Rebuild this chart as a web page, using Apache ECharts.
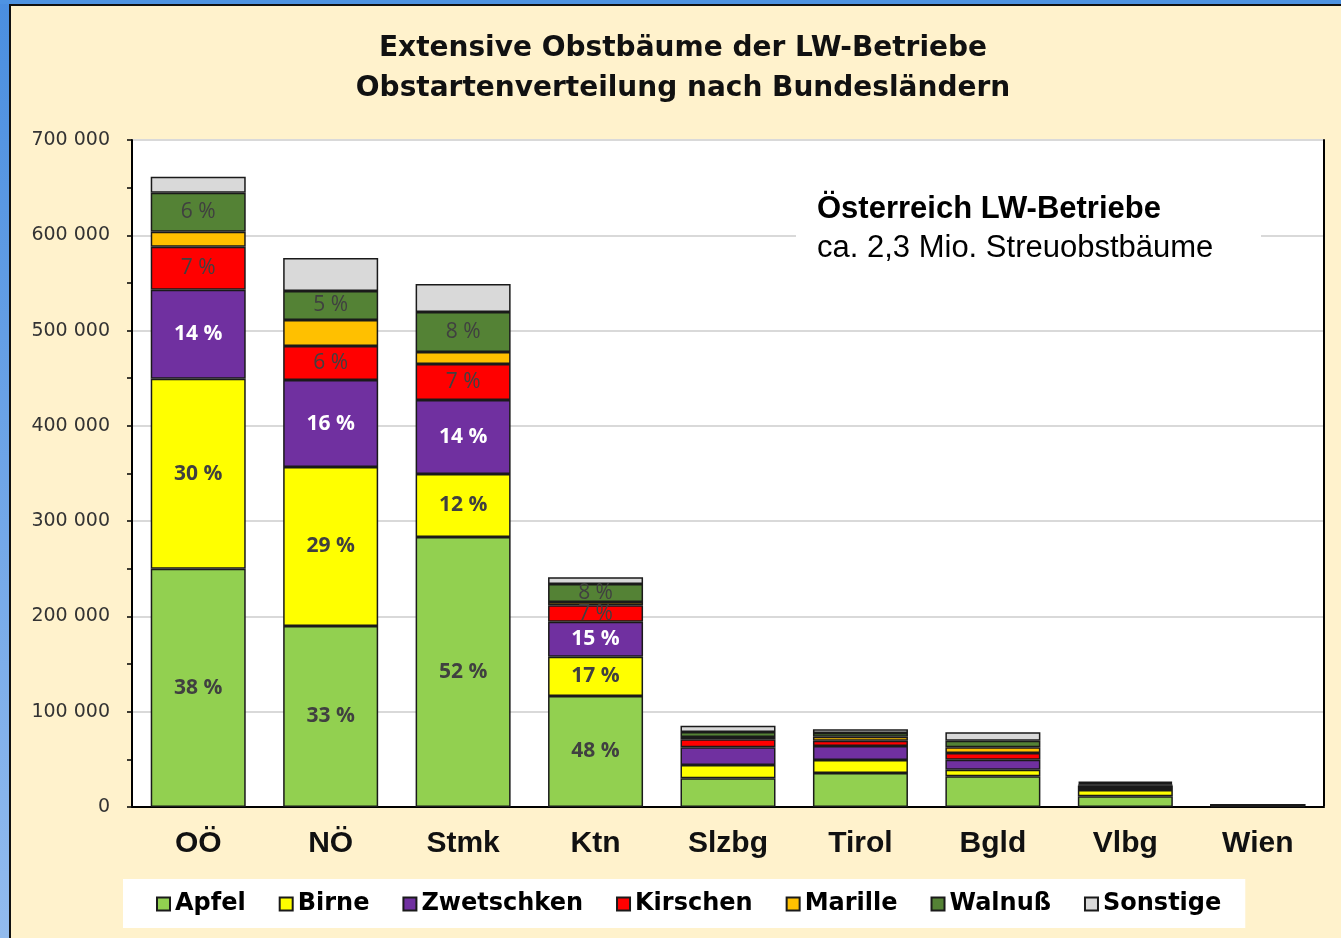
<!DOCTYPE html>
<html>
<head>
<meta charset="utf-8">
<script src="https://cdn.jsdelivr.net/npm/echarts@6/dist/echarts.min.js"></script>
<style>
  html, body { margin: 0; padding: 0; background: #fff2cc; }
  #chart { width: 1341px; height: 938px; }
</style>
</head>
<body>
<div id="chart"></div>
<script>
// Bundesländer
const lands = ['OÖ', 'NÖ', 'Stmk', 'Ktn', 'Slzbg', 'Tirol', 'Bgld', 'Vlbg', 'Wien'];

// Bäume je Obstart
const apfel      = [250000, 190000, 283400, 116500, 30100, 35700, 32200, 11200, 1200];
const birne      = [199400, 166800,  66100,  41300, 14000, 13600,  6900,  6600,  400];
const zwetschken = [ 93400,  91300,  77600,  36500, 18500, 14700, 10500,  3200,  300];
const kirschen   = [ 45100,  35700,  37800,  17500,  8400,  5600,  7100,  1600,  200];
const marille    = [ 15800,  27300,  12600,   3400,  2500,  4200,  5900,  1000,  100];
const walnuss    = [ 40900,  30400,  42000,  18900,  5200,  3900,  7000,  1500,  200];
const sonstige   = [ 16800,  34700,  29400,   7000,  6600,  3800,  8800,  1500,  100];

const yTicks = [0, 700000, 100000]; // min, max, interval

// nur die vier großen Länder tragen Prozent-Beschriftungen
const labelledLands = 4;

const series = [
    { name: 'Apfel',      data: apfel,      color: '#92d050', label: { color: '#404040', fontWeight: 'bold' } },
    { name: 'Birne',      data: birne,      color: '#ffff00', label: { color: '#404040', fontWeight: 'bold' } },
    { name: 'Zwetschken', data: zwetschken, color: '#7030a0', label: { color: '#ffffff', fontWeight: 'bold' } },
    { name: 'Kirschen',   data: kirschen,   color: '#ff0000', label: { color: '#404040', fontWeight: 'normal' } },
    { name: 'Marille',    data: marille,    color: '#ffc000', label: null },
    { name: 'Walnuß',     data: walnuss,    color: '#548235', label: { color: '#404040', fontWeight: 'normal' } },
    { name: 'Sonstige',   data: sonstige,   color: '#d9d9d9', label: null },
];

const totals = lands.map((_, i) => series.reduce((s, e) => s + e.data[i], 0));

function fmtThousands(v) {
    return String(v).replace(/\B(?=(\d{3})+(?!\d))/g, ' ');
}

const chart = echarts.init(document.getElementById('chart'));

chart.setOption({
    backgroundColor: '#fff2cc',
    animation: false,
    title: {
        text: 'Extensive Obstbäume der LW-Betriebe\nObstartenverteilung nach Bundesländern',
        left: 683,
        top: 29,
        padding: 0,
        textAlign: 'center',
        textStyle: {
            fontFamily: 'DejaVu Sans',
            fontWeight: 'bold',
            fontSize: 28,
            lineHeight: 40,
            color: '#111'
        }
    },
    legend: {
        left: 123,
        top: 879,
        padding: [13, 24, 12, 33],
        backgroundColor: '#ffffff',
        itemWidth: 13,
        itemHeight: 13,
        itemGap: 33,
        icon: 'rect',
        textStyle: {
            fontFamily: 'DejaVu Sans',
            fontWeight: 'bold',
            fontSize: 24,
            color: '#000'
        },
        data: series.map(s => s.name)
    },
    grid: {
        left: 132,
        right: 17,
        top: 140,
        bottom: 131,
        show: true,
        backgroundColor: '#ffffff',
        borderWidth: 0
    },
    xAxis: [{
        type: 'category',
        data: lands,
        axisLine: { lineStyle: { color: '#d9d9d9', width: 2 } },
        axisTick: { show: false },
        axisLabel: {
            margin: 22,
            fontFamily: 'Liberation Sans',
            fontWeight: 'bold',
            fontSize: 30,
            color: '#111'
        }
    }, {
        type: 'category',
        data: lands,
        position: 'top',
        axisLine: { lineStyle: { color: '#000', width: 2 } },
        axisTick: { show: false },
        axisLabel: { show: false }
    }],
    yAxis: [{
        type: 'value',
        min: yTicks[0],
        max: yTicks[1],
        interval: yTicks[2],
        axisLine: { show: true, lineStyle: { color: '#000', width: 2 } },
        axisTick: { show: true, length: 5, lineStyle: { color: '#000', width: 1.5 } },
        minorTick: { show: true, splitNumber: 2, length: 5, lineStyle: { color: '#000', width: 1.5 } },
        splitLine: { lineStyle: { color: '#d9d9d9', width: 2 } },
        axisLabel: {
            margin: 22,
            fontFamily: 'DejaVu Sans',
            fontSize: 19,
            color: '#333',
            formatter: fmtThousands
        }
    }, {
        type: 'value',
        position: 'right',
        min: yTicks[0],
        max: yTicks[1],
        axisLine: { show: true, lineStyle: { color: '#000', width: 2 } },
        axisTick: { show: false },
        axisLabel: { show: false },
        splitLine: { show: false }
    }],
    series: series.map(s => ({
        name: s.name,
        type: 'bar',
        stack: 'total',
        barWidth: 95,
        itemStyle: { color: s.color, borderColor: '#1a1a1a', borderWidth: 1.5 },
        label: {
            show: !!s.label,
            position: 'inside',
            fontFamily: 'Open Sans',
            fontSize: 21,
            color: s.label ? s.label.color : '#404040',
            fontWeight: s.label ? s.label.fontWeight : 'normal',
            formatter: p => (s.label && p.dataIndex < labelledLands)
                ? Math.round(p.value / totals[p.dataIndex] * 100) + ' %'
                : ''
        },
        data: s.data
    })),
    graphic: [
        // Folienrahmen
        {
            type: 'rect', z: 100,
            shape: { x: 0, y: 0, width: 9, height: 938 },
            style: {
                fill: new echarts.graphic.LinearGradient(0, 0, 0, 1, [
                    { offset: 0, color: '#4a8ee0' },
                    { offset: 1, color: '#92bbee' }
                ])
            }
        },
        { type: 'rect', z: 100, shape: { x: 0, y: 0, width: 1341, height: 4 }, style: { fill: '#4e93e2' } },
        { type: 'rect', z: 101, shape: { x: 9, y: 4, width: 1332, height: 2 }, style: { fill: '#111' } },
        { type: 'rect', z: 101, shape: { x: 9, y: 4, width: 2, height: 934 }, style: { fill: '#111' } },
        // Textfeld
        { type: 'rect', z: 100, shape: { x: 796, y: 182, width: 465, height: 90 }, style: { fill: '#ffffff' } },
        {
            type: 'text', z: 101, x: 817, y: 209,
            style: {
                text: 'Österreich LW-Betriebe',
                font: 'bold 31px "Liberation Sans"',
                fill: '#000',
                verticalAlign: 'middle'
            }
        },
        {
            type: 'text', z: 101, x: 817, y: 248,
            style: {
                text: 'ca. 2,3 Mio. Streuobstbäume',
                font: '31px "Liberation Sans"',
                fill: '#000',
                verticalAlign: 'middle'
            }
        }
    ]
});

window.addEventListener('resize', () => chart.resize());
</script>
</body>
</html>
